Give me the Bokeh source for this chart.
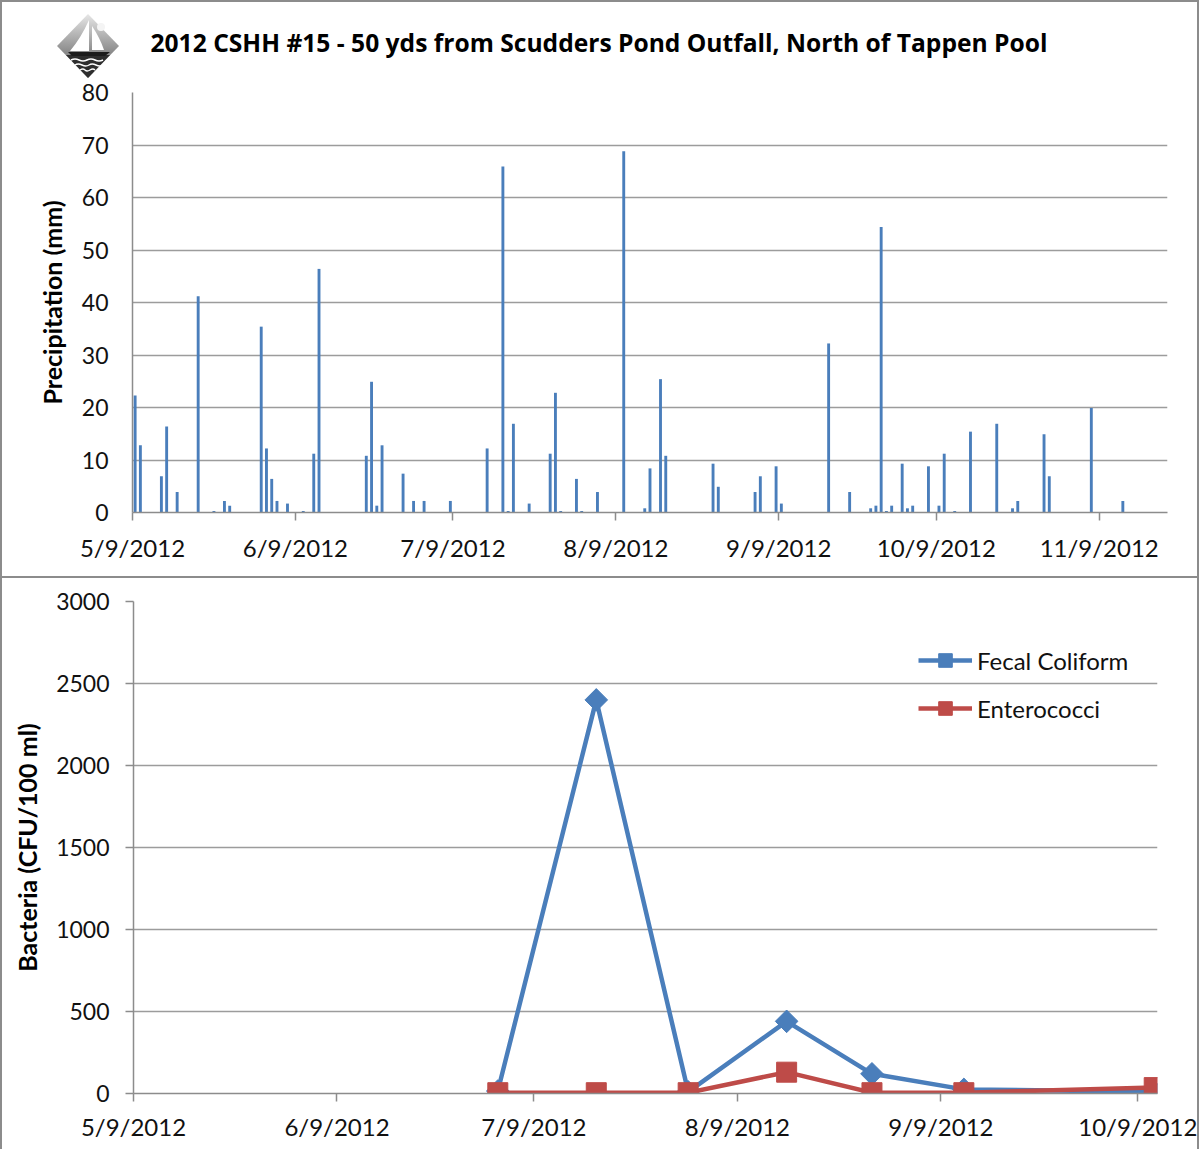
import math
import urllib.parse
import pandas as pd
from bokeh.plotting import figure
from bokeh.models import (FixedTicker, Range1d, Legend, LegendItem, Title,
                          ColumnDataSource)
from bokeh.embed import file_html
from bokeh.resources import INLINE

# ---------------- data ----------------
TITLE = "2012 CSHH #15 - 50 yds from Scudders Pond  Outfall, North of Tappen Pool"

precip_dates = [
    "2012-05-09", "2012-05-10", "2012-05-14", "2012-05-15", "2012-05-17", "2012-05-21",
    "2012-05-24", "2012-05-26", "2012-05-27", "2012-06-02", "2012-06-03", "2012-06-04",
    "2012-06-05", "2012-06-07", "2012-06-10", "2012-06-12", "2012-06-13", "2012-06-22",
    "2012-06-23", "2012-06-24", "2012-06-25", "2012-06-29", "2012-07-01", "2012-07-03",
    "2012-07-08", "2012-07-15", "2012-07-18", "2012-07-19", "2012-07-20", "2012-07-23",
    "2012-07-27", "2012-07-28", "2012-07-29", "2012-08-01", "2012-08-02", "2012-08-05",
    "2012-08-10", "2012-08-14", "2012-08-15", "2012-08-17", "2012-08-18", "2012-08-27",
    "2012-08-28", "2012-09-04", "2012-09-05", "2012-09-08", "2012-09-09", "2012-09-18",
    "2012-09-22", "2012-09-26", "2012-09-27", "2012-09-28", "2012-09-29", "2012-09-30",
    "2012-10-02", "2012-10-03", "2012-10-04", "2012-10-07", "2012-10-09", "2012-10-10",
    "2012-10-12", "2012-10-15", "2012-10-20", "2012-10-23", "2012-10-24", "2012-10-29",
    "2012-10-30", "2012-11-07", "2012-11-13",
]
precip_mm = [
    22.3, 12.8, 6.9, 16.4, 3.9, 41.2,
    0.3, 2.2, 1.3, 35.4, 12.2, 6.4,
    2.2, 1.7, 0.3, 11.2, 46.4, 10.8,
    24.9, 1.3, 12.8, 7.4, 2.2, 2.2,
    2.2, 12.2, 65.9, 0.3, 16.9, 1.7,
    11.2, 22.8, 0.3, 6.4, 0.3, 3.9,
    68.8, 0.8, 8.4, 25.4, 10.8, 9.3,
    4.9, 3.9, 6.9, 8.8, 1.7, 32.2,
    3.9, 0.8, 1.3, 54.4, 0.3, 1.3,
    9.3, 0.8, 1.3, 8.8, 1.3, 11.2,
    0.3, 15.4, 16.9, 0.8, 2.2, 14.9,
    6.9, 19.9, 2.2,
]
precip_ticks = ["5/9/2012", "6/9/2012", "7/9/2012", "8/9/2012",
                "9/9/2012", "10/9/2012", "11/9/2012"]
precip_yticks = [0, 10, 20, 30, 40, 50, 60, 70, 80]

sample_dates = ["7/3/2012", "7/18/2012", "8/1/2012", "8/16/2012",
                "8/29/2012", "9/12/2012", "10/11/2012"]
fecal = [15, 2400, 10, 440, 120, 25, 10]
entero = [5, 5, 5, 130, 5, 5, 36]
bact_ticks = ["5/9/2012", "6/9/2012", "7/9/2012", "8/9/2012",
              "9/9/2012", "10/9/2012"]
bact_yticks = [0, 500, 1000, 1500, 2000, 2500, 3000]

# ---------------- helpers ----------------
FONT = "Lato"
BLUE = "#4A7EBB"
RED = "#BE4B48"
GRID = "#9c9c9c"
AXIS = "#8c8c8c"
PANEL = "#8c8c8c"
HALF_DAY = pd.Timedelta(hours=12)   # Excel date axis centres marks in the day slot


def parse(lst):
    return pd.to_datetime(lst, format="%m/%d/%Y")


def ms(ts):
    return int(pd.Timestamp(ts).value // 10**6)


def style_axes(p, yticks, xticks_labels, y_tick_out):
    tick_dt = parse(xticks_labels)
    p.xaxis.ticker = FixedTicker(ticks=[ms(t) for t in tick_dt])
    p.xaxis.major_label_overrides = {ms(t): s for t, s in zip(tick_dt, xticks_labels)}
    p.yaxis.ticker = FixedTicker(ticks=yticks)
    for ax in (p.xaxis[0], p.yaxis[0]):
        ax.axis_line_color = AXIS
        ax.axis_line_width = 1.5
        ax.major_tick_line_color = AXIS
        ax.major_tick_line_width = 1.5
        ax.minor_tick_line_color = None
        ax.major_tick_in = 0
        ax.major_label_text_font = FONT
        ax.major_label_text_color = "#111111"
        ax.axis_label_text_font = FONT
        ax.axis_label_text_font_style = "bold"
        ax.axis_label_text_color = "#000000"
        ax.axis_label_text_font_size = "25px"
    p.xaxis.major_tick_out = 8
    p.yaxis.major_tick_out = y_tick_out
    p.xaxis.major_label_text_font_size = "24px"
    p.yaxis.major_label_text_font_size = "23px"
    p.xgrid.grid_line_color = None
    p.ygrid.grid_line_color = GRID
    p.ygrid.grid_line_width = 1.5
    p.outline_line_color = None
    p.background_fill_color = "white"


W = 1199

# logo (simplified sailboat in a diamond) used as a CSS background of the top panel
LOGO_SVG = (
    '<svg xmlns="http://www.w3.org/2000/svg" width="62" height="64" viewBox="0 0 62 64">'
    '<defs><linearGradient id="g" x1="0" y1="0" x2="0" y2="1">'
    '<stop offset="0" stop-color="#e6e6e6"/><stop offset="0.6" stop-color="#8a8a8a"/>'
    '</linearGradient></defs>'
    '<polygon points="31,0 62,32 31,64 0,32" fill="url(#g)"/>'
    '<polygon points="9,41 53,41 31,64" fill="#2e2e2e"/>'
    '<path d="M14,46 q4,-2 8,0 t8,0 t8,0 t8,0" stroke="#fff" stroke-width="1.4" fill="none"/>'
    '<path d="M18,51 q3,-2 7,0 t7,0 t7,0 t7,0" stroke="#fff" stroke-width="1.4" fill="none"/>'
    '<path d="M23,56 q3,-2 5,0 t5,0 t5,0" stroke="#fff" stroke-width="1.3" fill="none"/>'
    '<circle cx="44" cy="13" r="4" fill="#f4f4f4"/>'
    '<path d="M32,6 L32,37 L13,37 Q24,24 32,6 Z" fill="#ffffff"/>'
    '<path d="M35,12 L35,36 L47,36 Q43,24 35,12 Z" fill="#ffffff"/>'
    '<polygon points="11,38 53,38 48,42 15,42" fill="#1c1c1c"/>'
    '</svg>'
)
LOGO_URL = "data:image/svg+xml;charset=utf-8," + urllib.parse.quote(LOGO_SVG, safe="")

# ---------------- top: precipitation ----------------
pdates = pd.to_datetime(precip_dates) + HALF_DAY
src1 = ColumnDataSource(dict(x=pdates, top=precip_mm))

p1 = figure(width=W, height=578, x_axis_type="datetime", output_backend="svg",
            toolbar_location=None,
            x_range=Range1d(pd.Timestamp("2012-05-09"), pd.Timestamp("2012-11-22")),
            y_range=Range1d(0, 80),
            min_border_left=130, min_border_right=34, min_border_top=90,
            min_border_bottom=68)
p1.vbar(x="x", top="top", width=0.55 * 86400000, source=src1,
        fill_color=BLUE, line_color=None)
style_axes(p1, precip_yticks, precip_ticks, 0)
p1.xaxis.major_label_standoff = 12
p1.yaxis.major_label_standoff = 24
p1.yaxis.axis_label = "Precipitation (mm)"
p1.yaxis.axis_label_standoff = 12
p1.border_fill_color = None
p1.styles = {"border": f"2px solid {PANEL}", "box-sizing": "border-box",
             "background-color": "white",
             "background-image": f'url("{LOGO_URL}")',
             "background-repeat": "no-repeat",
             "background-position": "55px 12px"}

has_standoff = "standoff" in Title.properties()
# thin spacer between the frame and the title, then the title itself
spacer_kw = dict(text=" ", text_font_size="1px")
if has_standoff:
    spacer_kw["standoff"] = 31
p1.add_layout(Title(**spacer_kw), "above")
title_kw = dict(text=TITLE, align="left", offset=18, text_font="Open Sans",
                text_font_style="bold", text_font_size="24.6px", text_color="#000000")
if has_standoff:
    title_kw["standoff"] = 0
p1.add_layout(Title(**title_kw), "above")

# ---------------- bottom: bacteria ----------------
sdates = parse(sample_dates) + HALF_DAY
src_f = ColumnDataSource(dict(x=sdates, y=fecal))
src_e = ColumnDataSource(dict(x=sdates, y=entero))

p2 = figure(width=W, height=571, x_axis_type="datetime", output_backend="svg",
            toolbar_location=None,
            x_range=Range1d(pd.Timestamp("2012-05-09"), pd.Timestamp("2012-10-12")),
            y_range=Range1d(0, 3000),
            min_border_left=131, min_border_right=44, min_border_top=23,
            min_border_bottom=56)
style_axes(p2, bact_yticks, bact_ticks, 8)
p2.xaxis.major_label_standoff = 10
p2.yaxis.major_label_standoff = 16
p2.yaxis.axis_label = "Bacteria (CFU/100 ml)"
p2.yaxis.axis_label_standoff = 11
p2.border_fill_color = "white"
p2.styles = {"border-left": f"2px solid {PANEL}", "border-right": f"2px solid {PANEL}",
             "box-sizing": "border-box"}

lf = p2.line("x", "y", source=src_f, line_color=BLUE, line_width=4.5)
mf = p2.scatter("x", "y", source=src_f, marker="square", angle=math.pi / 4,
                size=16, fill_color=BLUE, line_color=BLUE)
le = p2.line("x", "y", source=src_e, line_color=RED, line_width=4.5)
me = p2.scatter("x", "y", source=src_e, marker="square", size=20,
                fill_color=RED, line_color=RED)

legend = Legend(items=[LegendItem(label="Fecal Coliform", renderers=[lf, mf]),
                       LegendItem(label="Enterococci", renderers=[le, me])],
                location=(785, 368), glyph_width=54, glyph_height=34,
                label_standoff=5, spacing=14, padding=0, margin=0,
                border_line_color=None, background_fill_alpha=0,
                label_text_font=FONT, label_text_font_size="24px",
                label_text_color="#111111")
p2.add_layout(legend)

open("out.html", "w").write(file_html([p1, p2], INLINE))
